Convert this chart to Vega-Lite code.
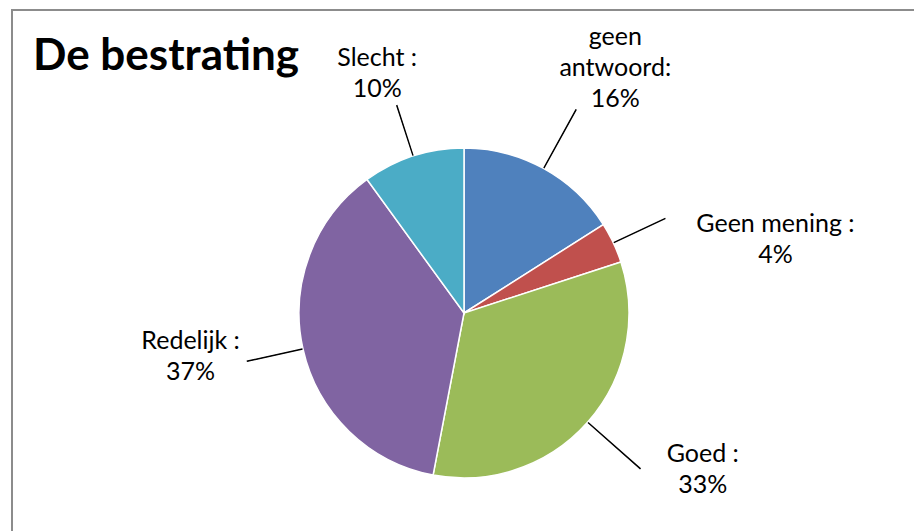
{
  "$schema": "https://vega.github.io/schema/vega-lite/v6.json",
  "width": 904,
  "height": 606,
  "autosize": {"type": "none"},
  "padding": {"left": 12, "top": 10, "right": 0, "bottom": 0},
  "background": "white",
  "view": {"stroke": "#8c8c8c", "strokeWidth": 2},
  "config": {"view": {"stroke": "#8c8c8c", "strokeWidth": 2}, "font": "Lato"},
  "title": {"text": "De bestrating", "anchor": "start", "frame": "group", "offset": -44, "dx": 21, "dy": 61, "baseline": "alphabetic", "font": "Lato", "fontSize": 44, "fontWeight": "bold", "color": "#000000"},
  "data": {"values": [
    {"category": "geen antwoord", "label": "geen\nantwoord:\n16%", "value": 16, "rank": 1},
    {"category": "Geen mening", "label": "Geen mening :\n4%", "value": 4, "rank": 2},
    {"category": "Goed", "label": "Goed :\n33%", "value": 33, "rank": 3},
    {"category": "Redelijk", "label": "Redelijk :\n37%", "value": 37, "rank": 4},
    {"category": "Slecht", "label": "Slecht :\n10%", "value": 10, "rank": 5}
  ]},
  "transform": [
    {"window": [{"op": "sum", "field": "value", "as": "cum"}], "sort": [{"field": "rank", "order": "ascending"}], "frame": [null, 0]},
    {"calculate": "datum.cum - datum.value / 2", "as": "mid"},
    {"calculate": "datum.mid + 0.03", "as": "mid2"}
  ],
  "layer": [
    {"transform": [{"filter": "datum.rank == 1"}], "mark": {"type": "rect", "fill": null, "stroke": "#8c8c8c", "strokeWidth": 2}, "encoding": {}},
    {
      "mark": {"type": "arc", "radius": 165, "stroke": "white", "strokeWidth": 1.5},
      "encoding": {
        "theta": {"field": "value", "type": "quantitative", "stack": true, "scale": {"domain": [0, 100]}},
        "order": {"field": "rank", "type": "quantitative"},
        "color": {"field": "category", "type": "nominal", "legend": null,
          "scale": {"domain": ["geen antwoord", "Geen mening", "Goed", "Redelijk", "Slecht"], "range": ["#4F81BD", "#C0504D", "#9BBB59", "#8064A2", "#4BACC6"]}}
      }
    },
    {"transform": [{"filter": "datum.rank == 1"}], "mark": {"type": "arc", "radius": 232, "radius2": 166, "fill": "black", "stroke": "black", "strokeWidth": 1.1},
     "encoding": {"theta": {"field": "mid", "type": "quantitative", "scale": {"domain": [0, 100]}}, "theta2": {"field": "mid2"}}},
    {"transform": [{"filter": "datum.rank == 2"}], "mark": {"type": "arc", "radius": 222, "radius2": 166, "fill": "black", "stroke": "black", "strokeWidth": 1.1},
     "encoding": {"theta": {"field": "mid", "type": "quantitative", "scale": {"domain": [0, 100]}}, "theta2": {"field": "mid2"}}},
    {"transform": [{"filter": "datum.rank == 3"}], "mark": {"type": "arc", "radius": 235, "radius2": 166, "fill": "black", "stroke": "black", "strokeWidth": 1.1},
     "encoding": {"theta": {"field": "mid", "type": "quantitative", "scale": {"domain": [0, 100]}}, "theta2": {"field": "mid2"}}},
    {"transform": [{"filter": "datum.rank == 4"}], "mark": {"type": "arc", "radius": 222, "radius2": 166, "fill": "black", "stroke": "black", "strokeWidth": 1.1},
     "encoding": {"theta": {"field": "mid", "type": "quantitative", "scale": {"domain": [0, 100]}}, "theta2": {"field": "mid2"}}},
    {"transform": [{"filter": "datum.rank == 5"}], "mark": {"type": "arc", "radius": 218, "radius2": 166, "fill": "black", "stroke": "black", "strokeWidth": 1.1},
     "encoding": {"theta": {"field": "mid", "type": "quantitative", "scale": {"domain": [0, 100]}}, "theta2": {"field": "mid2"}}},
    {"transform": [{"filter": "datum.rank == 1"}], "mark": {"type": "text", "radius": 285, "dx": 14, "dy": -26, "lineBreak": "\n", "fontSize": 25, "lineHeight": 31, "align": "center", "baseline": "middle", "color": "#000000"},
     "encoding": {"theta": {"field": "mid", "type": "quantitative", "scale": {"domain": [0, 100]}}, "text": {"field": "label", "type": "nominal"}}},
    {"transform": [{"filter": "datum.rank == 2"}], "mark": {"type": "text", "radius": 300, "dx": 40, "dy": 39, "lineBreak": "\n", "fontSize": 25, "lineHeight": 31, "align": "center", "baseline": "middle", "color": "#000000"},
     "encoding": {"theta": {"field": "mid", "type": "quantitative", "scale": {"domain": [0, 100]}}, "text": {"field": "label", "type": "nominal"}}},
    {"transform": [{"filter": "datum.rank == 3"}], "mark": {"type": "text", "radius": 285, "dx": 25, "dy": -47, "lineBreak": "\n", "fontSize": 25, "lineHeight": 31, "align": "center", "baseline": "middle", "color": "#000000"},
     "encoding": {"theta": {"field": "mid", "type": "quantitative", "scale": {"domain": [0, 100]}}, "text": {"field": "label", "type": "nominal"}}},
    {"transform": [{"filter": "datum.rank == 4"}], "mark": {"type": "text", "radius": 275, "dx": -5, "dy": -32, "lineBreak": "\n", "fontSize": 25, "lineHeight": 31, "align": "center", "baseline": "middle", "color": "#000000"},
     "encoding": {"theta": {"field": "mid", "type": "quantitative", "scale": {"domain": [0, 100]}}, "text": {"field": "label", "type": "nominal"}}},
    {"transform": [{"filter": "datum.rank == 5"}], "mark": {"type": "text", "radius": 255, "dx": -8, "dy": -12, "lineBreak": "\n", "fontSize": 25, "lineHeight": 31, "align": "center", "baseline": "middle", "color": "#000000"},
     "encoding": {"theta": {"field": "mid", "type": "quantitative", "scale": {"domain": [0, 100]}}, "text": {"field": "label", "type": "nominal"}}}
  ]
}
